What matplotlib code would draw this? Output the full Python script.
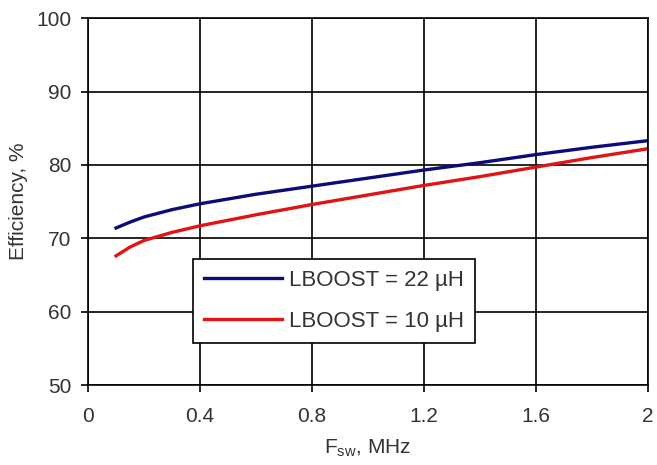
import matplotlib.pyplot as plt

plt.rcParams['font.family'] = ['Liberation Sans', 'DejaVu Sans']

fsw = [0.1, 0.15, 0.2, 0.3, 0.4, 0.6, 0.8, 1.0, 1.2, 1.4, 1.6, 1.8, 2.0]
eff_22uh = [71.4, 72.2, 72.9, 73.9, 74.7, 76.0, 77.1, 78.2, 79.3, 80.3, 81.4, 82.4, 83.3]
eff_10uh = [67.6, 68.8, 69.7, 70.8, 71.7, 73.2, 74.6, 75.9, 77.2, 78.4, 79.7, 81.0, 82.2]

xticks = [0, 0.4, 0.8, 1.2, 1.6, 2]
xticklabels = ["0", "0.4", "0.8", "1.2", "1.6", "2"]
yticks = [50, 60, 70, 80, 90, 100]

fig = plt.figure(figsize=(6.57, 4.65), dpi=100)
ax = fig.add_axes([0.134, 0.172, 0.852, 0.789])

ax.plot(fsw, eff_22uh, color="#0c0c78", lw=2.4, label="LBOOST = 22 µH")
ax.plot(fsw, eff_10uh, color="#e01414", lw=2.4, label="LBOOST = 10 µH")

ax.set_xlim(0, 2)
ax.set_ylim(50, 100)
ax.set_xticks(xticks)
ax.set_xticklabels(xticklabels)
ax.set_yticks(yticks)
ax.grid(True, color="black", lw=1.2)
for s in ax.spines.values():
    s.set_color("black")
    s.set_linewidth(1.2)
ax.tick_params(direction="out", length=5, width=1.2, labelsize=15, colors="black",
               labelcolor="#333333")
ax.tick_params(axis="x", pad=11)
ax.tick_params(axis="y", pad=7)

ax.set_xlabel(r"F$_{\mathregular{sw}}$, MHz", fontsize=15, color="#333333", labelpad=8)
ax.set_ylabel("Efficiency, %", fontsize=15, color="#333333", labelpad=6)

leg = ax.legend(loc="lower left", bbox_to_anchor=(0.1875, 0.114), fontsize=16,
                frameon=True, fancybox=False, edgecolor="black", framealpha=1,
                handlelength=3.5, handletextpad=0.3, labelspacing=0.9,
                borderpad=0.5, borderaxespad=0)
leg.get_frame().set_linewidth(1.2)
for t in leg.get_texts():
    t.set_color("#333333")

fig.savefig("out.png", dpi=100)
